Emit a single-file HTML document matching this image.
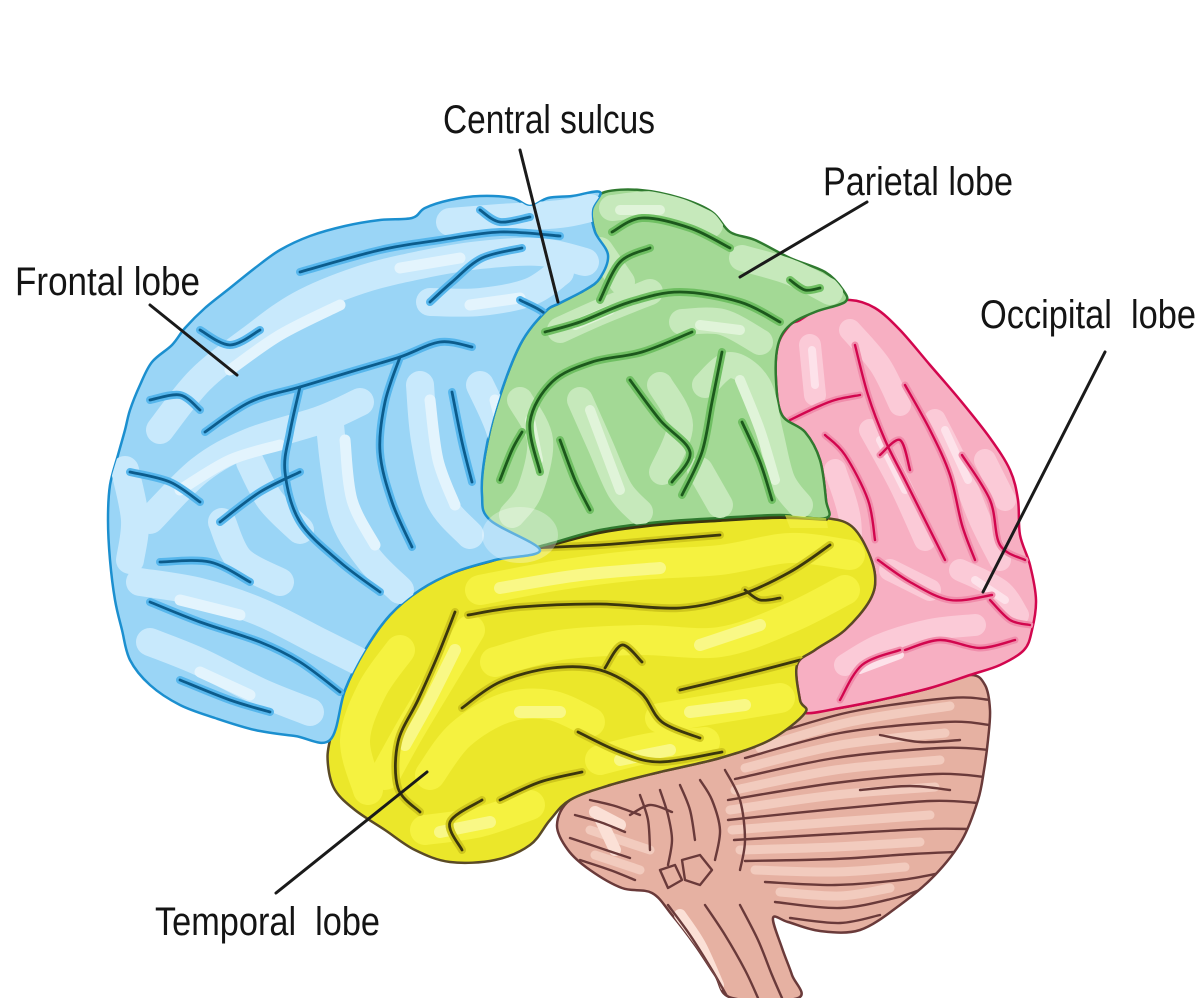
<!DOCTYPE html>
<html>
<head>
<meta charset="utf-8">
<style>
html,body{margin:0;padding:0;background:#fff;}
body{width:1200px;height:998px;overflow:hidden;position:relative;}
svg{position:absolute;left:0;top:0;}
.lbl{font-family:"Liberation Sans Narrow","Liberation Sans",sans-serif;font-size:40px;fill:#141414;white-space:pre;}
</style>
</head>
<body>
<svg width="1200" height="998" viewBox="0 0 1200 998" xmlns="http://www.w3.org/2000/svg">
<defs>
<clipPath id="cBlue"><path class="s" d="M600,192 L572,196 L548,198 L530,206 L512,198 L480,196 L450,200 L425,208 L412,218 L380,220 L345,226 L310,236 L280,250 L255,268 L230,288 L205,308 L185,328 L172,345 L152,362 L140,385 L130,410 L125,430 L118,455 L110,485 L108,520 L110,560 L115,600 L122,630 L130,660 L150,685 L180,705 L215,718 L255,730 L295,736 L330,740 L345,690 L365,650 L390,615 L420,590 L455,572 L495,560 L540,550 L490,520 L482,495 L485,455 L497,405 L520,345 L545,312 L560,303 L585,290 L600,278 L608,255 L595,232 L592,210 Z"/></clipPath>
<clipPath id="cGreen"><path class="s" d="M592,205 L605,192 L640,190 L680,198 L712,212 L730,232 L755,240 L790,258 L825,272 L843,290 L845,302 L815,312 L790,325 L778,345 L776,380 L782,415 L805,432 L820,460 L826,500 L826,518 L780,515 L720,518 L660,522 L600,530 L545,545 L500,555 L485,530 L481,495 L485,455 L497,405 L520,345 L545,312 L560,303 L585,290 L600,278 L608,255 L595,232 Z"/></clipPath>
<clipPath id="cYellow"><path class="s" d="M330,740 L345,690 L365,650 L390,615 L420,590 L455,572 L495,560 L545,545 L600,530 L660,522 L720,518 L780,515 L826,518 L850,525 L865,545 L875,575 L870,600 L845,630 L815,650 L797,665 L800,700 L805,713 L770,740 L720,758 L660,772 L610,785 L570,800 L550,820 L530,845 L495,860 L450,862 L415,850 L385,830 L355,810 L335,790 L328,765 Z"/></clipPath>
<clipPath id="cPink"><path class="s" d="M800,320 L825,305 L850,300 L875,308 L900,330 L930,365 L960,400 L990,438 L1010,470 L1018,500 L1020,535 L1030,565 L1036,600 L1032,630 L1024,650 L1000,665 L970,675 L930,688 L880,700 L840,708 L805,713 L800,700 L797,665 L815,650 L845,630 L870,600 L875,575 L865,545 L850,525 L826,518 L826,500 L820,460 L805,432 L782,415 L776,380 L778,345 L790,325 Z"/></clipPath>
<clipPath id="cSal"><path class="s" d="M805,713 L840,708 L880,700 L930,688 L970,675 L985,685 L990,710 L988,740 L984,770 L978,800 L962,840 L935,875 L900,905 L860,930 L820,931 L788,922 L773,918 L782,948 L792,975 L798,998 L732,998 L715,975 L695,945 L672,915 L652,893 L622,888 L590,870 L568,850 L557,825 L570,800 L610,785 L660,772 L720,758 L770,740 Z"/></clipPath>

<g id="bS">
    <path class="s" d="M300,272 L380,250 L440,240 L500,232 L560,236"/>
    <path class="s" d="M430,302 L452,282 L482,258 L522,248"/>
    <path class="s" d="M205,432 L250,402 L300,387 L350,372 L400,357 L440,342 L472,347"/>
    <path class="s" d="M400,357 L385,402 L380,452 L392,502 L412,547"/>
    <path class="s" d="M300,387 L290,432 L285,472 L300,522 L340,562 L380,592"/>
    <path class="s" d="M220,522 L260,492 L300,472"/>
    <path class="s" d="M150,602 L200,622 L260,642 L300,662 L340,692"/>
    <path class="s" d="M130,472 L170,482 L200,502"/>
    <path class="s" d="M160,562 L210,562 L250,582"/>
    <path class="s" d="M452,392 L462,442 L472,482"/>
    <path class="s" d="M480,210 L500,222 L530,217"/>
    <path class="s" d="M200,330 L230,345 L260,330"/>
    <path class="s" d="M150,400 L180,395 L200,410"/>
    <path class="s" d="M180,680 L230,700 L270,712"/>
    <path class="s" d="M520,300 L550,320 L545,360"/>
</g>
<g id="gS">
    <path class="s" d="M612,232 L642,218 L690,228 L730,248"/>
    <path class="s" d="M600,300 L620,262 L650,248"/>
    <path class="s" d="M545,332 L580,322 L630,302 L680,292 L740,302 L780,322"/>
    <path class="s" d="M540,472 L530,422 L552,382 L592,362 L642,352 L692,332"/>
    <path class="s" d="M630,380 L660,420 L690,452 L672,482"/>
    <path class="s" d="M722,352 L712,402 L702,452 L682,495"/>
    <path class="s" d="M742,422 L760,462 L772,500"/>
    <path class="s" d="M500,480 L512,450 L522,432"/>
    <path class="s" d="M560,440 L575,480 L590,510"/>
    <path class="s" d="M790,280 L805,290 L820,288"/>
</g>
<g id="yS">
    <path class="s" d="M468,615 L520,607 L600,604 L680,608 L740,595 L790,572 L830,545"/>
    <path class="s" d="M530,548 L600,545 L660,540 L720,535"/>
    <path class="s" d="M455,612 L438,655 L418,700 L398,742 L398,788 L420,812"/>
    <path class="s" d="M462,708 L500,682 L552,668 L600,670 L640,692 L662,722 L700,738"/>
    <path class="s" d="M605,668 L622,645 L642,662"/>
    <path class="s" d="M578,732 L620,752 L660,762 L722,752"/>
    <path class="s" d="M680,690 L722,680 L762,670 L800,660"/>
    <path class="s" d="M500,800 L540,782 L582,772"/>
    <path class="s" d="M462,850 L450,822 L482,800"/>
    <path class="s" d="M745,590 L760,600 L780,598"/>
</g>
<g id="pS">
    <path class="s" d="M790,420 L815,408 L835,400 L860,395"/>
    <path class="s" d="M855,345 L868,395 L885,440 L905,480 L925,520 L945,560"/>
    <path class="s" d="M905,385 L930,430 L950,475 L962,525 L975,560"/>
    <path class="s" d="M825,435 L845,455 L868,500 L875,540"/>
    <path class="s" d="M878,560 L910,582 L950,600 L992,595"/>
    <path class="s" d="M905,650 L940,640 L980,648 L1015,640"/>
    <path class="s" d="M962,455 L990,500 L1000,545 L1025,560"/>
    <path class="s" d="M840,700 L862,665 L900,650"/>
    <path class="s" d="M990,600 L1010,620 L1030,625"/>
    <path class="s" d="M880,455 L900,440 L910,470"/>
</g>
</defs>

<!-- ===== CEREBELLUM / BRAINSTEM ===== -->
<path class="s" d="M805,713 L840,708 L880,700 L930,688 L970,675 L985,685 L990,710 L988,740 L984,770 L978,800 L962,840 L935,875 L900,905 L860,930 L820,931 L788,922 L773,918 L782,948 L792,975 L798,998 L732,998 L715,975 L695,945 L672,915 L652,893 L622,888 L590,870 L568,850 L557,825 L570,800 L610,785 L660,772 L720,758 L770,740 Z" fill="#e6b1a2" stroke="#6a3a3a" stroke-width="2.5" stroke-linejoin="round"/>
<g clip-path="url(#cSal)" fill="none" stroke-linecap="round" stroke-linejoin="round">
  <g stroke="#f2cbbe" stroke-width="9">
    <path class="s" d="M760,748 L850,722 L950,706"/>
    <path class="s" d="M745,768 L840,745 L945,733"/>
    <path class="s" d="M735,790 L835,770 L940,760"/>
    <path class="s" d="M730,810 L835,795 L935,787"/>
    <path class="s" d="M732,830 L835,822 L930,815"/>
    <path class="s" d="M740,850 L835,847 L920,842"/>
    <path class="s" d="M755,870 L835,872 L905,867"/>
    <path class="s" d="M780,892 L840,896 L890,888"/>
    <path class="s" d="M590,830 L620,840 L650,850"/>
    <path class="s" d="M595,855 L640,870"/>
  </g>
  <g stroke="#fbe0d6" stroke-width="12">
    <path d="M595,812 L620,825"/>
    <path class="s" d="M680,915 L700,945 L718,985"/>
    <path d="M600,818 L615,850"/>
  </g>
  <g stroke="#6a3a3a" stroke-width="2.4">
    <path class="s" d="M760,738 L850,712 L950,698 L990,700"/>
    <path class="s" d="M745,758 L840,733 L945,722 L990,725"/>
    <path class="s" d="M735,779 L835,758 L940,748 L990,750"/>
    <path class="s" d="M728,800 L835,783 L935,774 L985,777"/>
    <path class="s" d="M728,820 L835,809 L930,801 L978,803"/>
    <path class="s" d="M734,840 L835,834 L925,829 L970,829"/>
    <path class="s" d="M745,861 L835,859 L912,854 L955,852"/>
    <path class="s" d="M765,882 L835,885 L900,880 L940,873"/>
    <path class="s" d="M775,902 L840,908 L895,898 L925,888"/>
    <path class="s" d="M790,918 L840,923 L880,915"/>
    <path class="s" d="M880,735 L920,742 L960,740"/>
    <path class="s" d="M860,790 L910,786 L950,790"/>
    <path class="s" d="M700,780 L712,800 L720,830 L715,860"/>
    <path class="s" d="M680,785 L690,810 L695,840"/>
    <path class="s" d="M660,790 L668,815 L672,840 L668,865"/>
    <path class="s" d="M640,795 L648,820 L650,850"/>
    <path class="s" d="M725,770 L740,800 L745,840 L740,870"/>
    <path class="s" d="M575,815 L600,822 L625,832"/>
    <path class="s" d="M570,838 L600,848 L630,858"/>
    <path class="s" d="M580,860 L610,870 L635,880"/>
    <path class="s" d="M590,800 L615,806 L640,815"/>
    <path class="s" d="M668,905 L690,935 L712,970 L728,998"/>
    <path class="s" d="M705,905 L725,935 L745,970 L758,998"/>
    <path class="s" d="M740,905 L758,940 L772,975 L782,998"/>
    <path class="s" d="M630,815 L650,805 L672,812"/>
    <path d="M682,860 L700,855 L712,870 L700,885 L685,880 Z"/>
    <path d="M660,870 L675,865 L682,880 L668,888 Z"/>
  </g>
</g>

<!-- ===== OCCIPITAL (PINK) ===== -->
<path class="s" d="M800,320 L825,305 L850,300 L875,308 L900,330 L930,365 L960,400 L990,438 L1010,470 L1018,500 L1020,535 L1030,565 L1036,600 L1032,630 L1024,650 L1000,665 L970,675 L930,688 L880,700 L840,708 L805,713 L800,700 L797,665 L815,650 L845,630 L870,600 L875,575 L865,545 L850,525 L826,518 L826,500 L820,460 L805,432 L782,415 L776,380 L778,345 L790,325 Z" fill="#f7afc2" stroke="#d2064e" stroke-width="2.5" stroke-linejoin="round"/>
<g clip-path="url(#cPink)" fill="none" stroke-linecap="round" stroke-linejoin="round">
  <g stroke="#fbcad7" stroke-width="22">
    <path class="s" d="M810,345 L815,395"/>
    <path class="s" d="M850,330 L880,365 L900,405"/>
    <path class="s" d="M870,430 L900,485 L925,540"/>
    <path class="s" d="M935,420 L960,470 L980,520 L1000,560"/>
    <path class="s" d="M835,470 L850,520 L850,580"/>
    <path class="s" d="M845,665 L880,645 L930,630 L975,625"/>
    <path class="s" d="M960,570 L1000,590 L1018,615"/>
    <path class="s" d="M890,570 L930,590"/>
    <path class="s" d="M985,460 L1005,500"/>
  </g>
  <g stroke="#fde2ea" stroke-width="8">
    <path d="M812,350 L815,385"/>
    <path class="s" d="M880,440 L905,490"/>
    <path d="M945,430 L968,480"/>
    <path d="M860,670 L900,655"/>
    <path d="M975,580 L1005,600"/>
  </g>
  <use href="#pS" stroke="#f08dab" stroke-width="7"/>
  <use href="#pS" stroke="#d2064e" stroke-width="2.4"/>
</g>

<!-- ===== TEMPORAL (YELLOW) ===== -->
<path class="s" d="M330,740 L345,690 L365,650 L390,615 L420,590 L455,572 L495,560 L545,545 L600,530 L660,522 L720,518 L780,515 L826,518 L850,525 L865,545 L875,575 L870,600 L845,630 L815,650 L797,665 L800,700 L805,713 L770,740 L720,758 L660,772 L610,785 L570,800 L550,820 L530,845 L495,860 L450,862 L415,850 L385,830 L355,810 L335,790 L328,765 Z" fill="#ebe72a" stroke="#5a4a25" stroke-width="2.5" stroke-linejoin="round"/>
<g clip-path="url(#cYellow)" fill="none" stroke-linecap="round" stroke-linejoin="round">
  <g stroke="#f5f240" stroke-width="30">
    <path class="s" d="M480,590 L560,575 L640,565 L720,560 L790,548 L850,555"/>
    <path class="s" d="M470,630 L440,680 L410,730 L385,775"/>
    <path class="s" d="M495,662 L560,645 L640,640 L720,642 L790,618 L845,590"/>
    <path class="s" d="M430,775 L460,735 L505,708 L550,705 L590,722"/>
    <path class="s" d="M660,718 L720,708 L780,698"/>
    <path class="s" d="M600,760 L650,748 L705,742"/>
    <path class="s" d="M425,830 L480,822 L530,805"/>
    <path class="s" d="M368,790 L355,740 L372,690 L400,650"/>
  </g>
  <g stroke="#f9f886" stroke-width="12">
    <path class="s" d="M500,588 L580,575 L660,568"/>
    <path class="s" d="M455,650 L430,700 L405,745"/>
    <path d="M700,645 L760,625"/>
    <path d="M520,712 L560,712"/>
    <path d="M690,712 L745,705"/>
    <path d="M440,832 L490,822"/>
    <path d="M620,760 L670,750"/>
  </g>
  <use href="#yS" stroke="#cfc71c" stroke-width="8"/>
  <use href="#yS" stroke="#3b360c" stroke-width="2.8"/>
  <path class="s" d="M500,556 L545,546 L600,532 L660,524 L720,520 L780,517 L826,519" stroke="#3a3510" stroke-width="4"/>
</g>

<!-- ===== PARIETAL (GREEN) ===== -->
<path class="s" d="M592,205 L605,192 L640,190 L680,198 L712,212 L730,232 L755,240 L790,258 L825,272 L843,290 L845,302 L815,312 L790,325 L778,345 L776,380 L782,415 L805,432 L820,460 L826,500 L826,518 L780,515 L720,518 L660,522 L600,530 L545,545 L500,555 L485,530 L481,495 L485,455 L497,405 L520,345 L545,312 L560,303 L585,290 L600,278 L608,255 L595,232 Z" fill="#a3d995" stroke="#2f7a2f" stroke-width="2.5" stroke-linejoin="round"/>
<g clip-path="url(#cGreen)" fill="none" stroke-linecap="round" stroke-linejoin="round">
  <g stroke="#c6e9bb" stroke-width="26">
    <path class="s" d="M612,208 L660,205 L710,225"/>
    <path class="s" d="M742,258 L790,272 L830,292"/>
    <path class="s" d="M560,330 L600,312 L650,292"/>
    <path class="s" d="M520,400 L540,440 L530,490 L512,515"/>
    <path class="s" d="M580,400 L600,445 L620,490 L640,512"/>
    <path class="s" d="M660,385 L680,425 L662,472"/>
    <path class="s" d="M705,385 L730,365 L758,385 L770,432 L782,480 L800,505"/>
    <path d="M600,250 L622,282"/>
    <path class="s" d="M682,322 L722,322 L760,342"/>
    <path d="M700,470 L720,505"/>
  </g>
  <g stroke="#e0f4d9" stroke-width="10">
    <path d="M620,210 L660,210"/>
    <path class="s" d="M590,410 L605,450 L620,490"/>
    <path d="M530,420 L538,460"/>
    <path class="s" d="M740,380 L760,430 L775,480"/>
    <path d="M575,325 L610,310"/>
    <path d="M700,325 L740,330"/>
  </g>
  <use href="#gS" stroke="#6fbf62" stroke-width="8"/>
  <use href="#gS" stroke="#1c581c" stroke-width="2.8"/>
</g>

<!-- ===== FRONTAL (BLUE) ===== -->
<path class="s" d="M600,192 L572,196 L548,198 L530,206 L512,198 L480,196 L450,200 L425,208 L412,218 L380,220 L345,226 L310,236 L280,250 L255,268 L230,288 L205,308 L185,328 L172,345 L152,362 L140,385 L130,410 L125,430 L118,455 L110,485 L108,520 L110,560 L115,600 L122,630 L130,660 L150,685 L180,705 L215,718 L255,730 L295,736 L330,740 L345,690 L365,650 L390,615 L420,590 L455,572 L495,560 L540,550 L490,520 L482,495 L485,455 L497,405 L520,345 L545,312 L560,303 L585,290 L600,278 L608,255 L595,232 L592,210 Z" fill="#9ad5f6" stroke="#1b8fcf" stroke-width="2.5" stroke-linejoin="round"/>
<g clip-path="url(#cBlue)" fill="none" stroke-linecap="round" stroke-linejoin="round">
  <g stroke="#c8e9fc" stroke-width="28">
    <path class="s" d="M160,430 L200,380 L250,340 L300,305 L360,280 L420,265 L480,255 L540,252 L585,262"/>
    <path class="s" d="M150,520 L200,470 L250,442 L320,420 L360,402"/>
    <path class="s" d="M330,425 L335,470 L345,520 L370,560 L400,590"/>
    <path class="s" d="M420,385 L425,440 L440,500 L470,535"/>
    <path class="s" d="M150,642 L200,662 L260,692 L310,712"/>
    <path class="s" d="M140,582 L200,592 L260,612 L320,642 L360,662"/>
    <path class="s" d="M222,522 L240,560 L280,582"/>
    <path class="s" d="M430,302 L480,302 L530,292 L560,272"/>
    <path class="s" d="M450,222 L500,218 L560,214 L590,208"/>
    <path class="s" d="M250,462 L270,500 L300,530"/>
    <path class="s" d="M480,385 L500,430 L510,480"/>
    <path class="s" d="M125,470 L135,520 L130,560"/>
  </g>
  <g stroke="#e3f4fd" stroke-width="11">
    <path class="s" d="M230,370 L280,335 L340,305"/>
    <path class="s" d="M345,440 L352,500 L375,545"/>
    <path class="s" d="M430,400 L438,460 L455,505"/>
    <path class="s" d="M180,490 L230,460 L280,445"/>
    <path d="M180,600 L240,615"/>
    <path d="M200,672 L250,695"/>
    <path d="M470,305 L520,298"/>
    <path d="M400,268 L460,258"/>
    <path d="M495,400 L508,450"/>
  </g>
  <use href="#bS" stroke="#56b6ec" stroke-width="8"/>
  <use href="#bS" stroke="#0c5c8c" stroke-width="2.8"/>
</g>

<!-- soft translucent overlap glow where lobes meet -->
<ellipse cx="520" cy="535" rx="38" ry="28" fill="#ffffff" opacity="0.3"/>
<path d="M785,515 L826,518 L828,528 L790,528 Z" fill="#f6f34a" opacity="0.6"/>

<!-- ===== LEADER LINES ===== -->
<g stroke="#1a1a1a" stroke-width="3" stroke-linecap="round">
  <line x1="150" y1="305" x2="237" y2="375"/>
  <line x1="520" y1="150" x2="558" y2="302"/>
  <line x1="867" y1="202" x2="740" y2="277"/>
  <line x1="1105" y1="352" x2="983" y2="592"/>
  <line x1="276" y1="893" x2="427" y2="772"/>
</g>

<!-- ===== LABELS ===== -->
<text class="lbl" x="15" y="295" textLength="185" lengthAdjust="spacingAndGlyphs">Frontal lobe</text>
<text class="lbl" x="443" y="133" textLength="212" lengthAdjust="spacingAndGlyphs">Central sulcus</text>
<text class="lbl" x="823" y="195" textLength="190" lengthAdjust="spacingAndGlyphs">Parietal lobe</text>
<text class="lbl" x="980" y="328" textLength="216" lengthAdjust="spacingAndGlyphs">Occipital  lobe</text>
<text class="lbl" x="155" y="935" textLength="225" lengthAdjust="spacingAndGlyphs">Temporal  lobe</text>
</svg>
<script>
(function(){
  function smooth(d){
    var closed=/z/i.test(d);
    var n=(d.match(/-?\d+(?:\.\d+)?/g)||[]).map(Number);
    var P=[];for(var i=0;i+1<n.length;i+=2)P.push([n[i],n[i+1]]);
    var N=P.length; if(N<3) return d;
    function g(i){return closed?P[(i+N)%N]:P[Math.max(0,Math.min(N-1,i))];}
    var s='M'+P[0][0]+','+P[0][1];
    var segs=closed?N:N-1;
    for(var k=0;k<segs;k++){
      var p0=g(k-1),p1=g(k),p2=g(k+1),p3=g(k+2);
      var c1x=p1[0]+(p2[0]-p0[0])/6,c1y=p1[1]+(p2[1]-p0[1])/6;
      var c2x=p2[0]-(p3[0]-p1[0])/6,c2y=p2[1]-(p3[1]-p1[1])/6;
      s+=' C'+c1x.toFixed(2)+','+c1y.toFixed(2)+' '+c2x.toFixed(2)+','+c2y.toFixed(2)+' '+p2[0]+','+p2[1];
    }
    if(closed)s+=' Z';
    return s;
  }
  var ps=document.querySelectorAll('path.s');
  for(var i=0;i<ps.length;i++){ps[i].setAttribute('d',smooth(ps[i].getAttribute('d')));}
})();
</script>
</body>
</html>
